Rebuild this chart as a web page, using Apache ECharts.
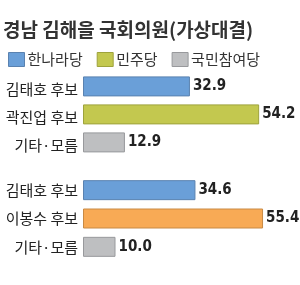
<!DOCTYPE html>
<html><head><meta charset="utf-8">
<script src="https://cdn.jsdelivr.net/npm/echarts@6/dist/echarts.min.js"></script>
<style>html,body{margin:0;padding:0;background:#fff}#c{width:300px;height:285px}</style>
</head><body><div id="c"></div>
<script>
const title = '경남 김해을 국회의원(가상대결)';
const legendNames = ['한나라당', '민주당', '국민참여당'];
const legendColors = ['#6A9FD8', '#C3C84F', '#BEBFC1'];
const cats1 = ['김태호 후보', '곽진업 후보', '기타·모름'];
const vals1 = [32.9, 54.2, 12.9];
const colors1 = ['#6A9FD8', '#C3C84F', '#BEBFC1'];
const cats2 = ['김태호 후보', '이봉수 후보', '기타·모름'];
const vals2 = [34.6, 55.4, 10.0];
const colors2 = ['#6A9FD8', '#F8AA55', '#BEBFC1'];
const borders = {'#6A9FD8':'#5A82B0','#C3C84F':'#9EA33C','#BEBFC1':'#98999C','#F8AA55':'#C98A44'};

const font = "'Noto Sans CJK KR', sans-serif";
const numFont = "'DejaVu Sans Condensed', sans-serif";

function mkSeries(vals, colors, idx) {
  return {
    type: 'bar', xAxisIndex: idx, yAxisIndex: idx, barWidth: 20, silent: true,
    data: vals.map((v, i) => ({ value: v, itemStyle: { color: colors[i], borderColor: borders[colors[i]], borderWidth: 1 } })),
    label: { show: true, position: 'right', distance: 3, color: '#222', fontFamily: numFont, fontSize: 15, fontWeight: 'bold',
      formatter: p => p.value.toFixed(1) }
  };
}
const axisX = idx => ({ gridIndex: idx, type: 'value', min: 0, max: 60, show: false });
const axisY = (idx, cats) => ({ gridIndex: idx, type: 'category', data: cats, inverse: true,
  axisLine: { show: false }, axisTick: { show: false },
  axisLabel: { color: '#222', fontFamily: font, fontSize: 15, margin: 5 } });

const chart = echarts.init(document.getElementById('c'), null, { renderer: 'canvas' });
chart.setOption({
  animation: false,
  title: { text: title, left: -2, top: 15, textStyle: { fontFamily: font, fontSize: 19, fontWeight: 'bold', color: '#333' } },
  legend: {
    left: 3, top: 47, itemWidth: 16, itemHeight: 14, itemGap: 14, icon: 'rect',
    textStyle: { fontFamily: font, fontSize: 15, color: '#333', padding: [0, 0, 0, -2] },
    data: legendNames.map((n, i) => ({ name: n, itemStyle: { color: legendColors[i], borderColor: borders[legendColors[i]], borderWidth: 1 } }))
  },
  grid: [
    { left: 83, right: 22, top: 75, height: 84 },
    { left: 83, right: 22, top: 176, height: 85 }
  ],
  xAxis: [axisX(0), axisX(1)],
  yAxis: [axisY(0, cats1), axisY(1, cats2)],
  series: [
    mkSeries(vals1, colors1, 0),
    mkSeries(vals2, colors2, 1),
    ...legendNames.map((n, i) => ({ name: n, type: 'bar', xAxisIndex: 0, yAxisIndex: 0, data: [], itemStyle: { color: legendColors[i] } }))
  ]
});
</script></body></html>
